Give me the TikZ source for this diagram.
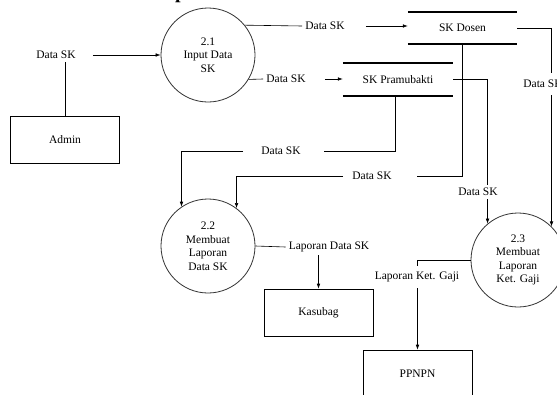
\documentclass[tikz,border=0pt]{standalone}
\usepackage{fontspec}
\setmainfont{Liberation Serif}
\usetikzlibrary{positioning,arrows.meta}

\tikzset{
	proc/.style={circle, draw=black!80, line width=0.8pt, minimum size=94pt, inner sep=0pt, align=center},
	entity/.style={rectangle, draw, line width=0.6pt, minimum width=109pt, minimum height=47pt},
	store/.style={rectangle, minimum height=32pt},
	storeline/.style={line width=1.6pt},
	flowlbl/.style={inner sep=3pt},
	flow/.style={line width=0.6pt, -{Latex[length=5pt,width=3.6pt]}},
	plain/.style={line width=0.6pt}
}

\begin{document}
\begin{tikzpicture}[x=1pt, y=-1pt, font=\fontsize{11.5}{13.5}\selectfont]
		\useasboundingbox (0,0) rectangle (557,394);

		% title cut off at the top
		\node[font=\fontsize{20}{22}\selectfont\bfseries, anchor=base west, inner sep=0pt] (ttl) at (175,-1.5) {p};

		% processes
		\node[proc] (p21) at (208,55) {2.1\\Input Data\\SK};
		\node[proc] (p22) at (208,246) {2.2\\Membuat\\Laporan\\Data SK};
		\node[proc] (p23) at (518,260) {2.3\\Membuat\\Laporan\\Ket. Gaji};

		% external entities
		\node[entity] (admin) at (65,139.5) {Admin};
		\node[entity] (kasubag) at (318.5,312.5) {Kasubag};
		\node[entity] (ppnpn) at (417.5,373.5) {PPNPN};

		% data stores
		\node[store, minimum width=109pt] (skdosen) at (462.5,28) {SK Dosen};
		\node[store, minimum width=110pt, minimum height=33pt] (skpram) at (398,79.5) {SK Pramubakti};
		\foreach \s in {skdosen, skpram} {
			\draw[storeline] (\s.north west) -- (\s.north east);
			\draw[storeline] (\s.south west) -- (\s.south east);
		}

		% flow labels
		\node[flowlbl] (lA) at (56,55) {Data SK};
		\node[flowlbl] (lB) at (325,26) {Data SK};
		\node[flowlbl] (lC) at (286,79) {Data SK};
		\node[flowlbl, inner ysep=7pt] (lD) at (543,84) {Data SK};
		\node[flowlbl] (lE) at (281,151) {Data SK};
		\node[flowlbl] (lF) at (372,176) {Data SK};
		\node[flowlbl] (lG) at (478,192) {Data SK};
		\node[flowlbl] (lH) at (329,247) {Laporan Data SK};
		\node[flowlbl, inner ysep=6pt] (lI) at (417,277) {Laporan Ket. Gaji};

		% admin -> 2.1
		\draw[plain] (admin.north) -- (admin.north |- lA.south);
		\draw[flow] ([xshift=14pt]lA.east) -- (p21.west);

		% 2.1 -> stores
		\draw[plain] (p21.39) -- (lB.west);
		\draw[flow] ([xshift=18pt]lB.east) -- (skdosen.west |- lB);
		\draw[plain] (p21.-31) -- (lC.west);
		\draw[flow] ([xshift=16pt]lC.east) -- (skpram.west |- lC);

		% SK Dosen -> 2.3 and 2.2
		\draw[plain] (skdosen.east) -| (p23.north east |- lD.north);
		\draw[flow] (p23.north east |- lD.south) -- (p23.north east);
		\draw[plain] (skdosen.south) |- ([xshift=22pt]lF.east);
		\draw[flow] ([xshift=-6pt]lF.west) -| (p22.53);

		% SK Pramubakti -> 2.2 and 2.3
		\draw[plain] ([xshift=-3pt]skpram.south) |- ([xshift=20pt]lE.east);
		\draw[flow] ([xshift=-15pt]lE.west) -| (p22.124);
		\draw[plain] (skpram.east) -| (p23.130 |- lG.north);
		\draw[flow] (p23.130 |- lG.south) -- (p23.130);

		% reports
		\draw[plain] (p22.east) -- (lH.west);
		\draw[flow] (lH.south -| kasubag.north) -- (kasubag.north);
		\draw[plain] (p23.west) -| (lI.north -| ppnpn.north);
		\draw[flow] (lI.south -| ppnpn.north) -- (ppnpn.north);

	\end{tikzpicture}
\end{document}
